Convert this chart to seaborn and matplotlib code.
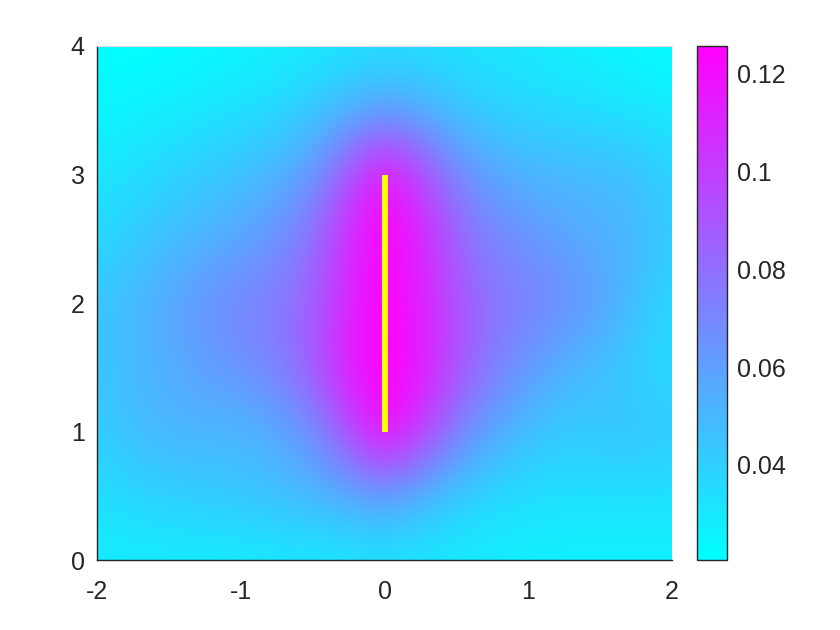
import numpy as np
import seaborn as sns
import matplotlib
matplotlib.use("Agg")
import matplotlib.pyplot as plt

# grid nodes of the field
x_nodes = [-2.0, -1.75, -1.5, -1.25, -1.0, -0.75, -0.5, -0.25, 0.0,
           0.25, 0.5, 0.75, 1.0, 1.25, 1.5, 1.75, 2.0]
y_nodes = [0.0, 0.5, 1.0, 1.5, 2.0, 2.5, 3.0, 3.5, 4.0]

# field values, one row per y node (bottom to top)
row_y00 = [0.028, 0.028, 0.028, 0.028, 0.028, 0.029, 0.029, 0.030, 0.031, 0.030, 0.029, 0.028, 0.027, 0.026, 0.026, 0.026, 0.026]
row_y05 = [0.034, 0.037, 0.040, 0.042, 0.044, 0.047, 0.050, 0.054, 0.058, 0.050, 0.041, 0.036, 0.034, 0.033, 0.033, 0.033, 0.033]
row_y10 = [0.041, 0.048, 0.051, 0.051, 0.050, 0.055, 0.066, 0.094, 0.126, 0.104, 0.074, 0.057, 0.047, 0.042, 0.044, 0.046, 0.042]
row_y15 = [0.044, 0.049, 0.054, 0.060, 0.065, 0.073, 0.089, 0.115, 0.126, 0.116, 0.093, 0.075, 0.063, 0.052, 0.047, 0.039, 0.036]
row_y20 = [0.044, 0.050, 0.057, 0.065, 0.071, 0.075, 0.086, 0.110, 0.126, 0.113, 0.092, 0.078, 0.073, 0.068, 0.060, 0.047, 0.036]
row_y25 = [0.036, 0.042, 0.047, 0.052, 0.057, 0.065, 0.080, 0.108, 0.126, 0.112, 0.086, 0.071, 0.065, 0.058, 0.054, 0.050, 0.042]
row_y30 = [0.031, 0.034, 0.038, 0.042, 0.046, 0.052, 0.063, 0.092, 0.122, 0.098, 0.071, 0.058, 0.052, 0.050, 0.049, 0.047, 0.039]
row_y35 = [0.024, 0.026, 0.028, 0.031, 0.033, 0.036, 0.042, 0.050, 0.057, 0.052, 0.044, 0.039, 0.037, 0.035, 0.033, 0.031, 0.029]
row_y40 = [0.021, 0.021, 0.021, 0.023, 0.025, 0.027, 0.029, 0.031, 0.033, 0.033, 0.032, 0.031, 0.029, 0.027, 0.025, 0.023, 0.021]

# the yellow segment
seg_x = [0.0, 0.0]
seg_y = [1.0, 3.0]

c_min, c_max = 0.0205, 0.1257
x_ticks = [-2, -1, 0, 1, 2]
y_ticks = [0, 1, 2, 3, 4]
cbar_ticks = [0.04, 0.06, 0.08, 0.1, 0.12]
cbar_labels = ["0.04", "0.06", "0.08", "0.1", "0.12"]

sns.set_style("ticks")
plt.rcParams['font.family'] = ['Liberation Sans', 'DejaVu Sans']
plt.rcParams['xtick.direction'] = 'in'
plt.rcParams['ytick.direction'] = 'in'

field = np.array([row_y00, row_y05, row_y10, row_y15, row_y20,
                  row_y25, row_y30, row_y35, row_y40])

fig = plt.figure(figsize=(8.4, 6.3), dpi=100)
ax = fig.add_axes([0.1155, 0.111, 0.6845, 0.816])
cax = fig.add_axes([0.830, 0.111, 0.036, 0.816])

dx = x_nodes[1] - x_nodes[0]
dy = y_nodes[1] - y_nodes[0]
im = ax.imshow(field, origin='lower', cmap='cool', vmin=c_min, vmax=c_max,
               interpolation='bicubic', aspect='auto',
               extent=[x_nodes[0] - dx / 2, x_nodes[-1] + dx / 2,
                       y_nodes[0] - dy / 2, y_nodes[-1] + dy / 2])

sns.lineplot(x=seg_x, y=seg_y, sort=False, estimator=None, color='#ffff00',
             linewidth=4.3, solid_capstyle='butt', ax=ax)

ax.set_xlim(-2, 2)
ax.set_ylim(0, 4)
ax.set_xticks(x_ticks)
ax.set_yticks(y_ticks)
ax.set_xticklabels([str(v) for v in x_ticks])
ax.set_yticklabels([str(v) for v in y_ticks])
# ticks sit under the image in the original, so only labels show
ax.tick_params(labelsize=18, colors='#262626', length=0)
ax.tick_params(axis='x', pad=14)
ax.tick_params(axis='y', pad=9)
for s in ['left', 'bottom']:
    ax.spines[s].set_color('#262626')
    ax.spines[s].set_linewidth(1.0)
ax.spines['top'].set_color('#dcdcdc')
ax.spines['right'].set_visible(False)

cb = fig.colorbar(im, cax=cax, ticks=cbar_ticks)
cb.ax.set_yticklabels(cbar_labels)
cb.ax.tick_params(labelsize=18, colors='#262626', direction='in', length=5, pad=7)
cb.outline.set_edgecolor('#262626')
cb.outline.set_linewidth(1.0)

fig.savefig('out.png', dpi=100)
